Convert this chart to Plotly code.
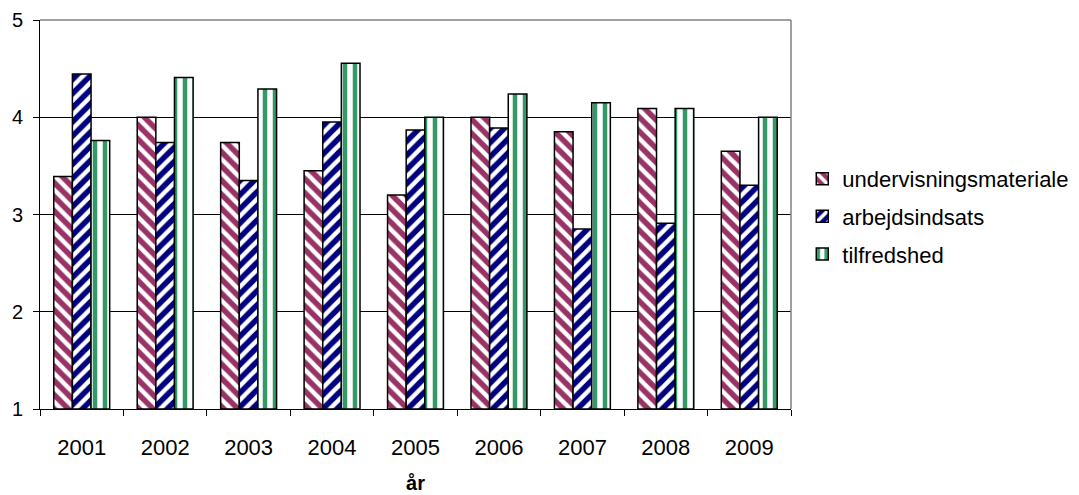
import plotly.graph_objects as go

years = ["2001", "2002", "2003", "2004", "2005", "2006", "2007", "2008", "2009"]
undervisningsmateriale = [3.39, 4.00, 3.74, 3.45, 3.20, 4.00, 3.85, 4.09, 3.65]
arbejdsindsats = [4.445, 3.74, 3.35, 3.95, 3.87, 3.89, 2.85, 2.91, 3.30]
tilfredshed = [3.76, 4.41, 4.29, 4.555, 4.00, 4.24, 4.15, 4.09, 4.00]

FONT = "Liberation Sans, Arial, sans-serif"
BASE = 1

series = [
    ("undervisningsmateriale", undervisningsmateriale, "\\", "#993366", "white", 0.45),
    ("arbejdsindsats", arbejdsindsats, "/", "#000080", "white", 0.45),
    ("tilfredshed", tilfredshed, "|", "white", "#339966", 0.45),
]

fig = go.Figure()
for name, vals, shape, bg, fg, sol in series:
    fig.add_trace(go.Bar(
        x=years, y=[v - BASE for v in vals], base=BASE, name=name,
        marker=dict(
            color=bg,
            line=dict(color="black", width=1.5),
            pattern=dict(shape=shape, bgcolor=bg, fgcolor=fg, size=10,
                         solidity=sol, fillmode="replace"),
        ),
        legendgroup=name,
    ))

# page body has an 8px default margin; compensate so the plot area sits
# at x 40-791, y 20-409 of the window
fig.update_layout(
    width=1079, height=495,
    margin=dict(l=32, r=296, t=12, b=94, autoexpand=False),
    paper_bgcolor="white", plot_bgcolor="white",
    barmode="group", bargap=0.33, bargroupgap=0,
    font=dict(family=FONT, color="black", size=20),
    legend=dict(x=1.015, xanchor="left", y=0.495, yanchor="middle",
                font=dict(size=22, family=FONT), tracegroupgap=6,
                traceorder="grouped", itemwidth=30),
    showlegend=True,
)
fig.update_xaxes(
    type="category", showline=True, linecolor="black", linewidth=1,
    ticks="outside", tickson="boundaries", ticklen=6, tickcolor="black",
    tickfont=dict(size=22), ticklabelstandoff=19, automargin=False,
    title=dict(text="<b>år</b>", font=dict(size=20), standoff=16),
    showgrid=False,
)
fig.update_yaxes(
    range=[1, 5], tickvals=[1, 2, 3, 4, 5], showline=True, linecolor="black",
    linewidth=1, ticks="outside", ticklen=6, tickcolor="black",
    tickfont=dict(size=20), ticklabelstandoff=6, automargin=False,
    showgrid=True, gridcolor="black", gridwidth=1, zeroline=False,
)
fig.add_shape(type="line", xref="paper", yref="paper", x0=0, x1=1, y0=1, y1=1,
              line=dict(color="#808080", width=1.5), layer="above")
fig.add_shape(type="line", xref="paper", yref="paper", x0=1, x1=1, y0=0, y1=1,
              line=dict(color="#808080", width=1.5), layer="above")

fig.write_html("out.html")
